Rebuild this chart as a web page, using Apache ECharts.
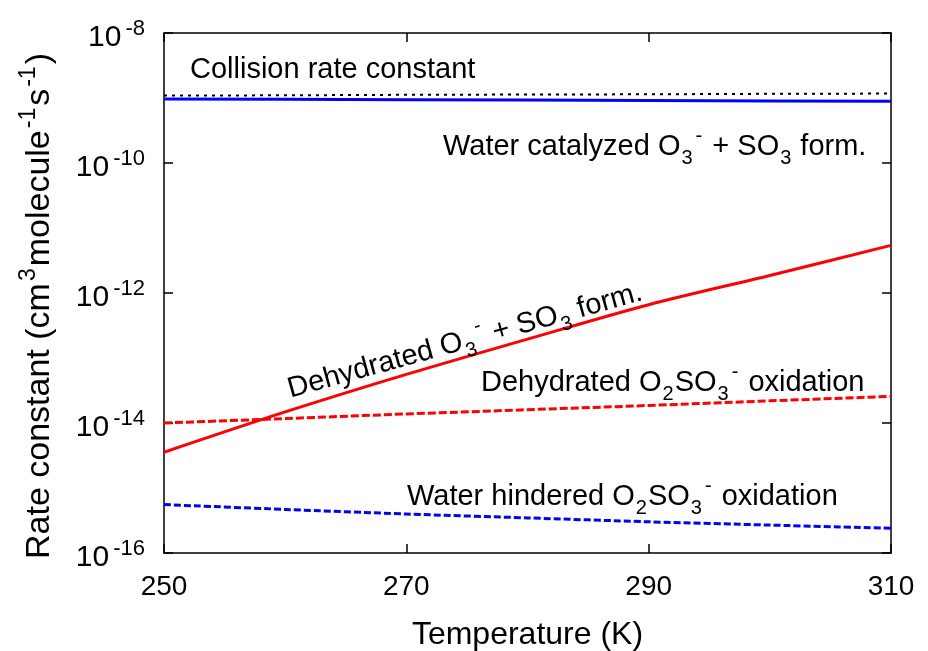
<!DOCTYPE html>
<html>
<head>
<meta charset="utf-8">
<script src="https://cdn.jsdelivr.net/npm/echarts@6/dist/echarts.min.js"></script>
<style>
html, body { margin: 0; padding: 0; background: #fff; }
#container { width: 928px; height: 651px; }
</style>
</head>
<body>
<div id="container"></div>
<script>
// temperature grid (K)
var temps = [250, 260, 270, 280, 290, 300, 310];
// rate constants (cm3 molecule-1 s-1)
var collisionRate = [1.09e-9, 1.10e-9, 1.12e-9, 1.13e-9, 1.14e-9, 1.16e-9, 1.17e-9];
var waterCatalyzed = [9.66e-10, 9.53e-10, 9.40e-10, 9.28e-10, 9.15e-10, 9.03e-10, 8.90e-10];
var dehydratedForm = [3.55e-15, 1.48e-14, 5.6e-14, 1.95e-13, 6.6e-13, 1.86e-12, 5.4e-12];
var dehydratedOxid = [1.0e-14, 1.17e-14, 1.38e-14, 1.6e-14, 1.86e-14, 2.19e-14, 2.57e-14];
var waterHindered = [5.56e-16, 4.68e-16, 3.98e-16, 3.47e-16, 3.02e-16, 2.69e-16, 2.40e-16];
var xTicks = [250, 270, 290, 310];

var FONT = "'Liberation Sans', Arial, sans-serif";

function pairs(ys) {
    return temps.map(function (t, i) { return [t, ys[i]]; });
}

function richSet(size, lh, small, gap) {
    small = small || Math.round(size * 0.7);
    gap = gap == null ? 2 : gap;
    return {
        n: { fontSize: size, fontFamily: FONT, color: '#000', lineHeight: lh },
        sup: { fontSize: small, fontFamily: FONT, color: '#000', lineHeight: Math.round(size * 0.8), verticalAlign: 'top', padding: [0, 2, 0, gap] },
        sub: { fontSize: small, fontFamily: FONT, color: '#000', lineHeight: Math.round(size * 0.8), verticalAlign: 'bottom', padding: [0, 1, 0, 1] }
    };
}

var labelRich = richSet(29, 42, 20);

function label(x, y, text, rot, align) {
    return {
        type: 'text',
        x: x,
        y: y,
        rotation: (rot || 0) * Math.PI / 180,
        style: {
            text: text,
            rich: labelRich,
            fill: '#000',
            fontFamily: FONT,
            fontSize: 29,
            align: align || 'left',
            verticalAlign: 'middle'
        },
        z: 100
    };
}

var dom = document.getElementById('container');
var myChart = echarts.init(dom);

var option = {
    backgroundColor: '#fff',
    animation: false,
    grid: { left: 164, right: 37, top: 33, bottom: 98, outerBoundsMode: 'none', containLabel: false },
    xAxis: [{
        type: 'value',
        min: 250, max: 310, interval: 20,
        name: 'Temperature (K)',
        nameLocation: 'middle',
        nameGap: 66,
        nameTextStyle: { fontSize: 32, fontFamily: FONT, color: '#000' },
        axisLine: { show: true, lineStyle: { color: '#000', width: 1.5 } },
        axisTick: { show: true, inside: true, length: 9, lineStyle: { color: '#000', width: 1.5 } },
        axisLabel: {
            fontSize: 28, fontFamily: FONT, color: '#000', margin: 20,
            formatter: function (v) { return xTicks.indexOf(v) >= 0 ? String(v) : ''; }
        },
        splitLine: { show: false }
    }, {
        type: 'value', position: 'top',
        min: 250, max: 310, interval: 20,
        axisLine: { show: true, lineStyle: { color: '#000', width: 1.5 } },
        axisTick: { show: true, inside: true, length: 9, lineStyle: { color: '#000', width: 1.5 } },
        axisLabel: { show: false },
        splitLine: { show: false }
    }],
    yAxis: [{
        type: 'log',
        logBase: 10,
        min: 1e-16, max: 1e-8, interval: 2,
        name: '{n|Rate constant (cm}{sup|3}{n|molecule}{sup|-1}{n|s}{sup|-1}{n|)}',
        nameLocation: 'middle',
        nameRotate: 90,
        nameGap: 101,
        nameTextStyle: { rich: richSet(34, 46, 23), padding: [0, 26, 0, 0] },
        axisLine: { show: true, lineStyle: { color: '#000', width: 1.5 } },
        axisTick: { show: true, inside: true, length: 9, lineStyle: { color: '#000', width: 1.5 } },
        axisLabel: {
            margin: 17,
            padding: [9, 0, 0, 0],
            formatter: function (v) {
                var e = Math.round(Math.log10(v));
                return '{n|10}{sup|' + e + '}';
            },
            rich: richSet(30, 40, 22, 4)
        },
        splitLine: { show: false },
        minorTick: { show: false }
    }, {
        type: 'log',
        logBase: 10,
        position: 'right',
        min: 1e-16, max: 1e-8, interval: 2,
        axisLine: { show: true, lineStyle: { color: '#000', width: 1.5 } },
        axisTick: { show: true, inside: true, length: 9, lineStyle: { color: '#000', width: 1.5 } },
        axisLabel: { show: false },
        splitLine: { show: false }
    }],
    series: [{
        name: 'Collision rate constant',
        type: 'line',
        data: pairs(collisionRate),
        showSymbol: false,
        lineStyle: { color: '#000', width: 2, type: [3, 5] }
    }, {
        name: 'Water catalyzed',
        type: 'line',
        data: pairs(waterCatalyzed),
        showSymbol: false,
        lineStyle: { color: '#0000ff', width: 3 }
    }, {
        name: 'Dehydrated form',
        type: 'line',
        data: pairs(dehydratedForm),
        showSymbol: false,
        smooth: 0.3,
        lineStyle: { color: '#ff0000', width: 3 }
    }, {
        name: 'Dehydrated oxidation',
        type: 'line',
        data: pairs(dehydratedOxid),
        showSymbol: false,
        lineStyle: { color: '#ff0000', width: 3, type: [8, 3] }
    }, {
        name: 'Water hindered oxidation',
        type: 'line',
        data: pairs(waterHindered),
        showSymbol: false,
        smooth: 0.3,
        lineStyle: { color: '#0000ff', width: 3, type: [7, 3] }
    }],
    graphic: [
        label(190, 70, '{n|Collision rate constant}'),
        label(443, 147, '{n|Water catalyzed O}{sub|3}{sup|-}{n| + SO}{sub|3}{n| form.}'),
        label(465, 341, '{n|Dehydrated O}{sub|3}{sup|-}{n| + SO}{sub|3}{n| form.}', 15.5, 'center'),
        label(481, 383, '{n|Dehydrated O}{sub|2}{n|SO}{sub|3}{sup|-}{n| oxidation}'),
        label(407, 497, '{n|Water hindered O}{sub|2}{n|SO}{sub|3}{sup|-}{n| oxidation}')
    ]
};

if (option && typeof option === 'object') {
    myChart.setOption(option, false);
}
</script>
</body>
</html>
